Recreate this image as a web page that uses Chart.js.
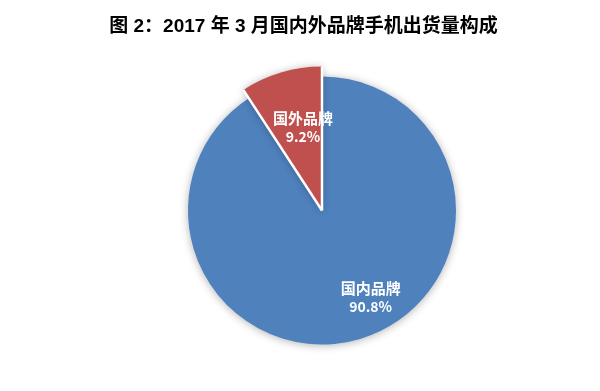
<!DOCTYPE html>
<html>
<head>
<meta charset="utf-8">
<script src="https://cdn.jsdelivr.net/npm/chart.js@4.4.1/dist/chart.umd.min.js"></script>
<style>
  html, body { margin: 0; padding: 0; background: #fff; }
  #wrap { width: 600px; height: 391px; }
</style>
</head>
<body>
<div id="wrap"><canvas id="pieChart" width="600" height="391"></canvas></div>
<script>
const titleText = '图 2：2017 年 3 月国内外品牌手机出货量构成';
const brandLabels = ['国内品牌', '国外品牌'];
const shareValues = [90.8, 9.2];
const sliceColors = ['#4f81bd', '#c0504d'];

// red slice sticks out past the blue one
const growBy = [0, 10];
// where each label sits: degrees clockwise from top, fraction of radius
const labelAngle = [150.6, -12.8];
const labelDist = [0.74, 0.64];

const growSlices = {
    id: 'growSlices',
    afterDatasetsUpdate(chart) {
        const arcs = chart.getDatasetMeta(0).data;
        arcs.forEach((arc, i) => {
            arc.outerRadius += growBy[i];
        });
    }
};

const pieShadow = {
    id: 'pieShadow',
    beforeDatasetsDraw(chart) {
        const ctx = chart.ctx;
        ctx.save();
        ctx.shadowColor = 'rgba(0, 0, 0, 0.3)';
        ctx.shadowBlur = 8;
        ctx.shadowOffsetX = 0;
        ctx.shadowOffsetY = 1;
    },
    afterDatasetsDraw(chart) {
        const ctx = chart.ctx;
        ctx.restore();

        // white seams between slices, but no outline round the pie
        const arcs = chart.getDatasetMeta(0).data;
        ctx.save();
        ctx.strokeStyle = '#fff';
        ctx.lineWidth = 2.5;
        ctx.lineCap = 'butt';
        arcs.forEach((arc) => {
            const r = Math.max(...arcs.map(a => a.outerRadius));
            [arc.startAngle].forEach((ang) => {
                ctx.beginPath();
                ctx.moveTo(arc.x, arc.y);
                ctx.lineTo(arc.x + Math.cos(ang) * r, arc.y + Math.sin(ang) * r);
                ctx.stroke();
            });
        });
        ctx.restore();
    }
};

const sliceLabels = {
    id: 'sliceLabels',
    afterDraw(chart) {
        const ctx = chart.ctx;
        const arcs = chart.getDatasetMeta(0).data;
        ctx.save();
        ctx.fillStyle = '#fff';
        ctx.textAlign = 'center';
        ctx.textBaseline = 'middle';
        ctx.font = 'bold 15px "Noto Sans CJK SC", "Liberation Sans", sans-serif';
        arcs.forEach((arc, i) => {
            const r = (arc.outerRadius - growBy[i]) * labelDist[i];
            const a = labelAngle[i] * Math.PI / 180;
            const x = arc.x + Math.sin(a) * r;
            const y = arc.y - Math.cos(a) * r;
            ctx.fillText(brandLabels[i], x, y - 9);
            ctx.font = 'bold 14px "Noto Sans CJK SC", "Liberation Sans", sans-serif';
            ctx.fillText(shareValues[i].toFixed(1) + '%', x, y + 10);
            ctx.font = 'bold 15px "Noto Sans CJK SC", "Liberation Sans", sans-serif';
        });

        // title
        ctx.fillStyle = '#000';
        ctx.font = 'bold 19px "Liberation Sans", "Noto Sans CJK SC", sans-serif';
        ctx.fillText(titleText, 303.5, 27);
        ctx.restore();
    }
};

new Chart(document.getElementById('pieChart'), {
    type: 'pie',
    data: {
        labels: brandLabels,
        datasets: [{
            data: shareValues,
            backgroundColor: sliceColors,
            borderWidth: 0
        }]
    },
    options: {
        responsive: false,
        animation: false,
        radius: 134,
        layout: {
            padding: { left: 44, right: 0, top: 30, bottom: 0 }
        },
        plugins: {
            legend: { display: false },
            tooltip: { enabled: false },
            title: { display: false }
        }
    },
    plugins: [growSlices, pieShadow, sliceLabels]
});
</script>
</body>
</html>
